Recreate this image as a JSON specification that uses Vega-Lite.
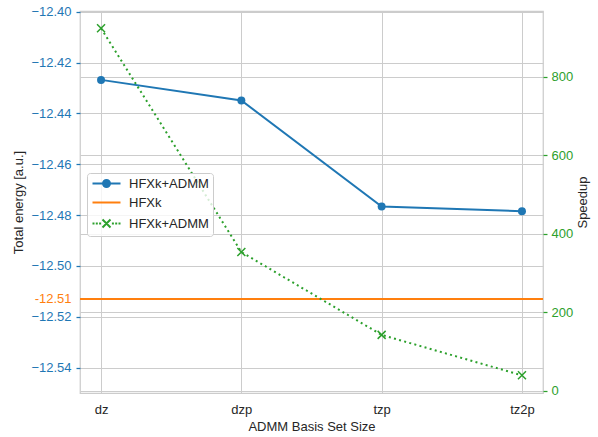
{
  "$schema": "https://vega.github.io/schema/vega-lite/v6.json",
  "width": 463,
  "height": 382,
  "autosize": "none",
  "padding": {"left": 80, "top": 11, "right": 55, "bottom": 44},
  "config": {
    "font": "Liberation Sans",
    "view": {"stroke": "#cccccc", "strokeWidth": 1.25},
    "axis": {
      "labelFont": "Liberation Sans",
      "titleFont": "Liberation Sans",
      "labelFontSize": 13,
      "titleFontSize": 13,
      "titleFontWeight": "normal",
      "labelColor": "#262626",
      "titleColor": "#262626",
      "gridColor": "#cccccc",
      "gridWidth": 1,
      "domain": false
    }
  },
  "datasets": {
    "main": [
      {"basis": "dz", "energy": -12.4268, "speedup": 923},
      {"basis": "dzp", "energy": -12.4349, "speedup": 353},
      {"basis": "tzp", "energy": -12.4766, "speedup": 142},
      {"basis": "tz2p", "energy": -12.4785, "speedup": 39}
    ],
    "ref": [{"label": "HFXk", "energy": -12.513}],
    "legend": [{"series": "a"}, {"series": "b"}, {"series": "c"}]
  },
  "layer": [
    {
      "data": {"name": "main"},
      "mark": {"type": "line", "color": "#1f77b4", "strokeWidth": 2, "point": {"filled": true, "size": 64, "color": "#1f77b4", "opacity": 1}},
      "encoding": {
        "x": {"field": "basis", "type": "ordinal", "sort": ["dz", "dzp", "tzp", "tz2p"], "scale": {"type": "point", "padding": 0.15},
          "axis": {"title": "ADMM Basis Set Size", "labelAngle": 0, "ticks": false, "labelPadding": 10, "titlePadding": 4, "grid": true}},
        "y": {"field": "energy", "type": "quantitative", "scale": {"domain": [-12.55, -12.3997], "zero": false, "nice": false},
          "axis": {"orient": "left", "title": "Total energy [a.u.]", "values": [-12.40, -12.42, -12.44, -12.46, -12.48, -12.50, -12.52, -12.54], "format": ".2f",
            "labelColor": "#1f77b4", "tickColor": "#1f77b4", "tickSize": 4, "tickWidth": 1.25, "labelPadding": 5, "titlePadding": 5, "grid": true}}
      }
    },
    {
      "data": {"name": "ref"},
      "mark": {"type": "rule", "color": "#ff7f0e", "strokeWidth": 2},
      "encoding": {
        "y": {"field": "energy", "type": "quantitative", "scale": {"domain": [-12.55, -12.3997], "zero": false, "nice": false},
          "axis": {"orient": "left", "title": null, "values": [-12.513], "labelExpr": "'-12.51'", "labelColor": "#ff7f0e", "ticks": false, "grid": false, "labelPadding": 9}}
      }
    },
    {
      "data": {"name": "main"},
      "encoding": {
        "x": {"field": "basis", "type": "ordinal", "sort": ["dz", "dzp", "tzp", "tz2p"], "scale": {"type": "point", "padding": 0.15}},
        "y": {"field": "speedup", "type": "quantitative", "scale": {"domain": [-6, 967], "zero": false, "nice": false},
          "axis": {"orient": "right", "title": "Speedup", "titleAngle": 270, "titleBaseline": "top", "values": [0, 200, 400, 600, 800],
            "labelColor": "#2ca02c", "tickColor": "#2ca02c", "tickSize": 4, "tickWidth": 1.25, "labelPadding": 4, "titlePadding": 4, "grid": true}}
      },
      "layer": [
        {"mark": {"type": "line", "color": "#2ca02c", "strokeWidth": 2, "strokeDash": [2, 3.3]}},
        {"mark": {"type": "point", "shape": "M-1,-1L1,1M-1,1L1,-1", "filled": false, "size": 64, "color": "#2ca02c", "strokeWidth": 1.5, "opacity": 1}}
      ]
    },
    {
      "data": {"name": "legend"},
      "mark": {"type": "point", "filled": false, "opacity": 0},
      "encoding": {
        "stroke": {"field": "series", "type": "nominal",
          "scale": {"domain": ["a", "b", "c"], "range": ["#1f77b4", "#ff7f0e", "#2ca02c"]},
          "legend": {"orient": "none", "legendX": 7, "legendY": 162, "title": null, "padding": 4,
            "strokeColor": "#cccccc", "fillColor": "rgba(255,255,255,0.8)", "cornerRadius": 3,
            "symbolSize": 100, "symbolStrokeWidth": 2, "symbolOpacity": 1, "symbolOffset": 9, "labelOffset": 16,
            "labelFont": "Liberation Sans", "labelFontSize": 13, "labelColor": "#262626", "rowPadding": 5,
            "labelExpr": "datum.value == 'b' ? 'HFXk' : 'HFXk+ADMM'"}},
        "shape": {"field": "series", "type": "nominal",
          "scale": {"domain": ["a", "b", "c"], "range": [
            "M-2.8,0L2.8,0M-0.7,0A0.7,0.7,0,1,0,0.7,0A0.7,0.7,0,1,0,-0.7,0M-0.35,0A0.35,0.35,0,1,0,0.35,0A0.35,0.35,0,1,0,-0.35,0M-0.1,0L0.1,0",
            "M-2.8,0L2.8,0",
            "M-2.8,0L-2.4,0M-2.14,0L-1.74,0M-1.48,0L-1.08,0M1.08,0L1.48,0M1.74,0L2.14,0M2.4,0L2.8,0M-0.8,-0.8L0.8,0.8M-0.8,0.8L0.8,-0.8"
          ]},
          "legend": {"orient": "none", "legendX": 7, "legendY": 162, "title": null, "padding": 4,
            "strokeColor": "#cccccc", "fillColor": "rgba(255,255,255,0.8)", "cornerRadius": 3,
            "symbolSize": 100, "symbolStrokeWidth": 2, "symbolOpacity": 1, "symbolOffset": 9, "labelOffset": 16,
            "labelFont": "Liberation Sans", "labelFontSize": 13, "labelColor": "#262626", "rowPadding": 5,
            "labelExpr": "datum.value == 'b' ? 'HFXk' : 'HFXk+ADMM'"}}
      }
    }
  ],
  "resolve": {"scale": {"y": "independent"}, "axis": {"y": "independent"}}
}
